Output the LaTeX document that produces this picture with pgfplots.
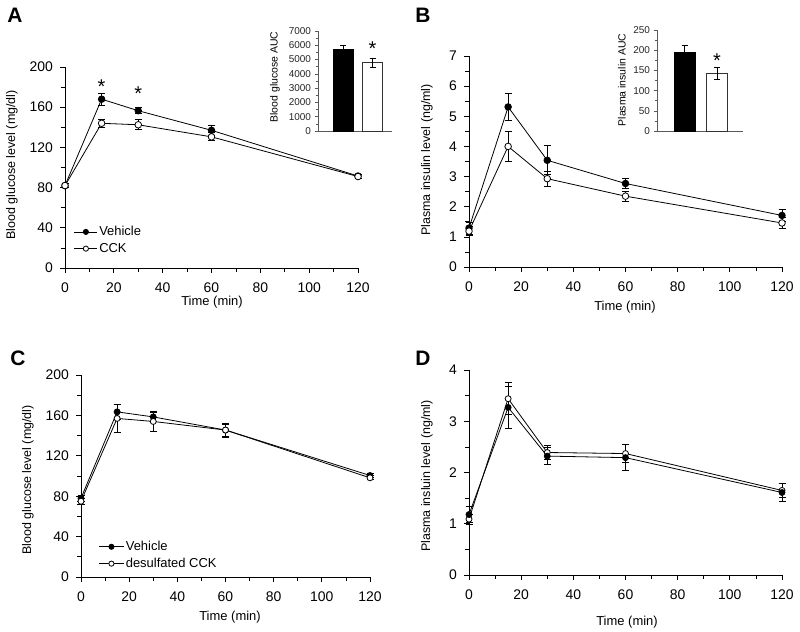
\documentclass[border=0pt]{standalone}
\usepackage{fontspec}
\setmainfont{Liberation Sans}
\usepackage{pgfplots}
\pgfplotsset{compat=1.18}

\pgfplotsset{
  base/.style={
    scale only axis, clip=false,
    axis x line*=bottom, axis y line*=left,
    axis line style={-, line width=0.8bp, black},
    tick align=outside,
    major tick length=5bp, minor tick length=4bp,
    every tick/.style={black, line width=0.7bp},
    /pgf/number format/assume math mode=true,
    /pgf/number format/1000 sep={},
    scaled ticks=false,
  },
  main/.style={
    base,
    xmin=0, xmax=120, xtick={0,20,...,120}, minor x tick num=1,
    ticklabel style={font=\fontsize{14}{16}\selectfont},
    xticklabel style={yshift=-6bp},
    yticklabel style={xshift=-3.5bp},
  },
  inset/.style={
    base,
    axis line style={-, line width=0.6bp, gray!70!black},
    every tick/.style={gray!70!black, line width=0.5bp},
    major tick length=3.5bp, minor tick length=2.5bp,
    xtick=\empty, minor y tick num=1,
    ticklabel style={font=\fontsize{10}{12}\selectfont, text=black!85},
  },
  errs/.style={
    error bars/y dir=both, error bars/y explicit,
    error bars/error bar style={line width=0.8bp, black},
    error bars/error mark options={rotate=90, mark size=3.5bp, line width=0.8bp, black}},
  veh/.style={black, line width=0.8bp, mark=*, mark size=3.3bp, mark options={fill=black, solid}, errs},
  cck/.style={black, line width=0.8bp, mark=*, mark size=3.3bp, mark options={fill=white, solid}, errs},
  ierr/.style={
    error bars/y dir=#1, error bars/y explicit,
    error bars/error bar style={line width=0.5bp, black},
    error bars/error mark options={rotate=90, mark size=3bp, line width=0.5bp, black}},
}

\begin{document}
\begin{tikzpicture}
\path[use as bounding box] (0,0) rectangle (800bp,632bp);

% ---------------- Panel A ----------------
\begin{axis}[main, at={(65bp,364bp)}, anchor=south west, width=293bp, height=201bp,
  ymin=0, ymax=200, ytick={0,40,...,200}, minor y tick num=1,
  legend entries={Vehicle, CCK}, legend cell align=left,
  legend style={at={(axis description cs:0.03,0.215)}, anchor=north west, draw=none, fill=none,
    font=\fontsize{13}{14}\selectfont, inner sep=0pt, row sep=3bp,
    nodes={inner sep=1.5bp}},
  legend image code/.code={\draw[mark repeat=2,mark phase=2,#1] plot coordinates {(0bp,0bp) (11.5bp,0bp) (23bp,0bp)};},
  legend image post style={mark size=2.6bp}]
\addplot+[veh] coordinates {(0,82) +- (0,2) (15,168) +- (0,6) (30,156.5) +- (0,3) (60,137) +- (0,5) (120,91.5) +- (0,2)};
\addplot+[cck] coordinates {(0,82) +- (0,2) (15,144) +- (0,4) (30,142.5) +- (0,5) (60,130.5) +- (0,4) (120,91) +- (0,2)};
\node[font=\fontsize{20}{20}\selectfont, yshift=-4bp] at (axis cs:15,184) {*};
\node[font=\fontsize{20}{20}\selectfont, yshift=-4bp] at (axis cs:30,177) {*};
\end{axis}

% Inset A
\begin{axis}[inset, at={(318bp,501bp)}, anchor=south west, width=74bp, height=100bp,
  xmin=0.153, xmax=2.66, ymin=0, ymax=7000, ytick={0,1000,...,7000}]
\addplot[ybar, bar shift=0pt, bar width=20bp, fill=black, draw=black, ierr=plus]
  coordinates {(1,5740) +- (0,280)};
\addplot[ybar, bar shift=0pt, bar width=20bp, fill=white, draw=black!80, line width=0.6bp, ierr=both]
  coordinates {(2,4790) +- (0,330)};
\node[font=\fontsize{20}{20}\selectfont, yshift=-4bp] at (axis cs:2,6020) {*};
\end{axis}

% ---------------- Panel B ----------------
\begin{axis}[main, at={(469bp,365bp)}, anchor=south west, width=313bp, height=211bp,
  ymin=0, ymax=7, ytick={0,1,...,7}, minor y tick num=1]
\addplot+[veh] coordinates {(0,1.29) +- (0,0.2) (15,5.31) +- (0,0.46) (30,3.54) +- (0,0.48) (60,2.77) +- (0,0.17) (120,1.71) +- (0,0.19)};
\addplot+[cck] coordinates {(0,1.19) +- (0,0.15) (15,4.0) +- (0,0.51) (30,2.93) +- (0,0.24) (60,2.35) +- (0,0.17) (120,1.46) +- (0,0.19)};
\end{axis}

% Inset B
\begin{axis}[inset, at={(657bp,501bp)}, anchor=south west, width=86bp, height=101bp,
  xmin=0.154, xmax=2.80, ymin=0, ymax=250, ytick={0,50,...,250}]
\addplot[ybar, bar shift=0pt, bar width=21bp, fill=black, draw=black, ierr=plus]
  coordinates {(1,196) +- (0,17)};
\addplot[ybar, bar shift=0pt, bar width=21bp, fill=white, draw=black!80, line width=0.6bp, ierr=both]
  coordinates {(2,142.5) +- (0,15)};
\node[font=\fontsize{20}{20}\selectfont, yshift=-4bp] at (axis cs:2,183) {*};
\end{axis}

% ---------------- Panel C ----------------
\begin{axis}[main, at={(81bp,55bp)}, anchor=south west, width=289bp, height=202bp,
  ymin=0, ymax=200, ytick={0,40,...,200}, minor y tick num=1,
  legend entries={Vehicle, desulfated CCK}, legend cell align=left,
  legend style={at={(axis description cs:0.06,0.185)}, anchor=north west, draw=none, fill=none,
    font=\fontsize{13}{14}\selectfont, inner sep=0pt, row sep=3bp,
    nodes={inner sep=1.5bp}},
  legend image code/.code={\draw[mark repeat=2,mark phase=2,#1] plot coordinates {(0bp,0bp) (12.5bp,0bp) (25bp,0bp)};},
  legend image post style={mark size=2.6bp}]
\addplot+[veh, mark size=3bp] coordinates {(0,78) +- (0,3) (15,163.5) +- (0,7) (30,158.5) +- (0,4.5) (60,145.5) +- (0,7) (120,100.5) +- (0,2)};
\addplot+[cck, mark size=3bp] coordinates {(0,75) +- (0,3) (15,157) +- (0,14) (30,154) +- (0,9.5) (60,145.5) +- (0,6) (120,98.2) +- (0,2)};
\end{axis}

% ---------------- Panel D ----------------
\begin{axis}[main, at={(469bp,57bp)}, anchor=south west, width=313bp, height=205bp,
  ymin=0, ymax=4, ytick={0,1,...,4}, minor y tick num=1]
\addplot+[cck, mark size=3bp] coordinates {(0,1.09) +- (0,0.1) (15,3.44) +- (0,0.31) (30,2.39) +- (0,0.14) (60,2.37) +- (0,0.17) (120,1.65) +- (0,0.14)};
\addplot+[veh, mark size=3bp] coordinates {(0,1.18) +- (0,0.15) (15,3.27) +- (0,0.41) (30,2.32) +- (0,0.16) (60,2.29) +- (0,0.25) (120,1.61) +- (0,0.18)};
\end{axis}

% ---------------- Labels ----------------
\node[font=\fontsize{13}{15}\selectfont] at (212bp,330bp) {Time (min)};
\node[font=\fontsize{13}{15}\selectfont] at (625bp,325bp) {Time (min)};
\node[font=\fontsize{13}{15}\selectfont] at (230bp,15bp) {Time (min)};
\node[font=\fontsize{13}{15}\selectfont] at (627bp,10bp) {Time (min)};
\node[font=\fontsize{12.5}{14}\selectfont, rotate=90] at (12bp,467bp) {Blood glucose level (mg/dl)};
\node[font=\fontsize{12.5}{14}\selectfont, rotate=90] at (427bp,472bp) {Plasma insulin level (ng/ml)};
\node[font=\fontsize{12.5}{14}\selectfont, rotate=90] at (28bp,152bp) {Blood glucose level (mg/dl)};
\node[font=\fontsize{12.5}{14}\selectfont, rotate=90] at (427bp,156bp) {Plasma insluin level (ng/ml)};
\node[font=\fontsize{10.5}{12}\selectfont, rotate=90] at (275bp,555bp) {Blood glucose AUC};
\node[font=\fontsize{10.5}{12}\selectfont, rotate=90] at (622bp,552bp) {Plasma insulin AUC};
\node[font=\bfseries\fontsize{21}{22}\selectfont] at (15bp,617bp) {A};
\node[font=\bfseries\fontsize{21}{22}\selectfont] at (423bp,617bp) {B};
\node[font=\bfseries\fontsize{21}{22}\selectfont] at (18bp,274bp) {C};
\node[font=\bfseries\fontsize{21}{22}\selectfont] at (423bp,274bp) {D};
\end{tikzpicture}
\end{document}
